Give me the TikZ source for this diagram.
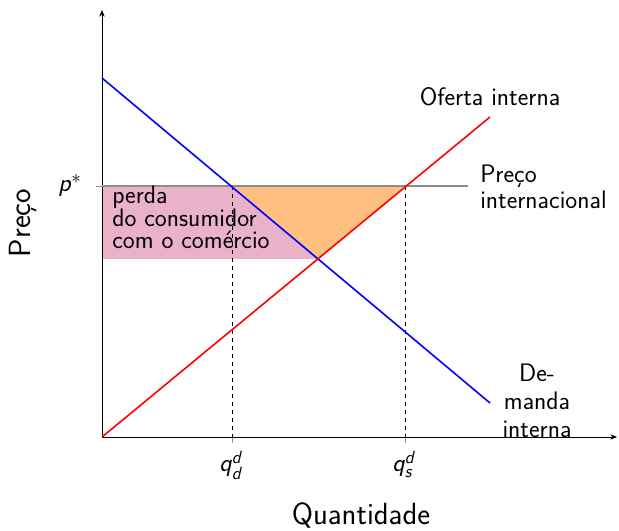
\documentclass[tikz,border=0pt]{standalone}
\usepackage{amsmath}
\usetikzlibrary{arrows.meta}
\renewcommand{\familydefault}{\sfdefault}
\newcommand{\sv}[1]{\textsf{\textit{#1}}}
\definecolor{pinkfill}{RGB}{234,178,200}
\definecolor{orangefill}{RGB}{255,191,128}
\definecolor{pricegray}{RGB}{140,140,140}
\begin{document}
\begin{tikzpicture}[x=0.75pt,y=-0.75pt,
  axis/.style={draw=black,line width=0.6pt,-{Stealth[length=5pt,width=4pt]}},
  curve/.style={line width=1.2pt},
  guide/.style={draw=black,dashed,line width=0.5pt},
  tickmark/.style={draw=pricegray,line width=0.6pt},
  lbl/.style={font=\fontsize{19}{21}\selectfont,inner sep=0pt},
  biglbl/.style={font=\fontsize{23}{26}\selectfont,inner sep=0pt}]
\useasboundingbox (0,0) rectangle (619,531);
% coordinates
\coordinate (O) at (102,437);
\coordinate (ytop) at (102,10);
\coordinate (xend) at (617,437);
\coordinate (dA) at (102,78);
\coordinate (dB) at (490,403);
\coordinate (sB) at (490,117);
\coordinate (pL) at (102,186);
\coordinate (pR) at (468,186);
\coordinate (qd) at (232,186);
\coordinate (qs) at (405,186);
\coordinate (E) at (318,259);
\coordinate (EL) at (102,259);
\coordinate (qdb) at (232,437);
\coordinate (qsb) at (405,437);
% fills
\fill[pinkfill] (pL) -- (qd) -- (E) -- (EL) -- cycle;
\fill[orangefill] (qd) -- (qs) -- (E) -- cycle;
% dashed guides
\draw[guide] (qd) -- (qdb);
\draw[guide] (qs) -- (qsb);
% ticks
\draw[tickmark] (qdb) -- ++(0,6);
\draw[tickmark] (qsb) -- ++(0,6);
\draw[tickmark] (pL) -- ++(-6,0);
% axes
\draw[axis] (O) -- (ytop);
\draw[axis] (O) -- (xend);
% price line
\draw[draw=pricegray,line width=1.5pt] (pL) -- (pR);
% curves
\draw[curve,blue] (dA) -- (dB);
\draw[curve,red] (O) -- (sB);
% labels
\node[lbl,anchor=base] (pstar) at (70,192) {$\sv{p}^{*}$};
\node[lbl,anchor=base] (qdl) at (231,472) {$\sv{q}^{\sv{d}}_{\sv{d}}$};
\node[lbl,anchor=base] (qsl) at (404,472) {$\sv{q}^{\sv{d}}_{\sv{s}}$};
\node[lbl,anchor=base] (of) at (490,106) {Oferta interna};
\node[lbl,align=left,anchor=base west,font=\fontsize{19}{20.2}\selectfont] (pi) at (480,209) {Preço\\internacional};
\node[lbl,align=center,anchor=base,font=\fontsize{19}{21}\selectfont] (dem) at (537,438) {De-\\manda\\interna};
\node[lbl,align=left,anchor=base west,font=\fontsize{19}{16.5}\selectfont] (perda) at (112,249) {perda\\do consumidor\\com o comércio};
\node[biglbl,anchor=base] (qx) at (361,525) {Quantidade};
\node[biglbl,rotate=90,anchor=base] (py) at (31,223) {Preço};
\end{tikzpicture}
\end{document}
